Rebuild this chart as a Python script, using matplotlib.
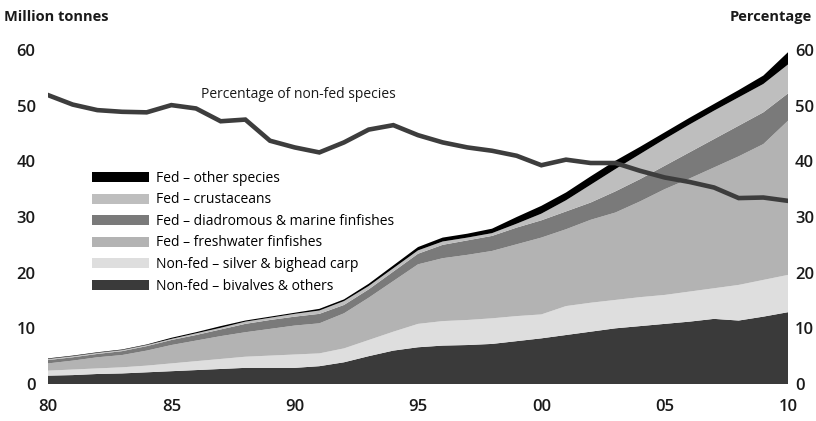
import matplotlib
matplotlib.use("Agg")
import matplotlib.pyplot as plt
from matplotlib.patches import Patch
import numpy as np

plt.rcParams['font.family'] = ['Open Sans', 'DejaVu Sans']

# years 1980-2010, million tonnes per group
years = list(range(1980, 2011))
tick_years = [1980, 1985, 1990, 1995, 2000, 2005, 2010]
tick_labels = ['80', '85', '90', '95', '00', '05', '10']

bivalves = [1.5, 1.6, 1.8, 1.9, 2.1, 2.3, 2.5, 2.7, 2.9, 2.9, 2.9, 3.2, 3.9, 5.0, 6.0,
            6.6, 6.9, 7.0, 7.2, 7.7, 8.2, 8.8, 9.4, 10.0, 10.4, 10.8, 11.2, 11.7, 11.4, 12.1, 12.9]
silver_carp = [0.9, 1.0, 1.0, 1.1, 1.2, 1.4, 1.6, 1.8, 2.0, 2.2, 2.4, 2.3, 2.5, 2.9, 3.4,
               4.2, 4.4, 4.5, 4.6, 4.5, 4.3, 5.2, 5.2, 5.1, 5.2, 5.2, 5.4, 5.5, 6.4, 6.6, 6.7]
freshwater = [1.3, 1.6, 2.0, 2.2, 2.7, 3.3, 3.7, 4.1, 4.4, 4.8, 5.2, 5.4, 6.3, 7.6, 9.1,
              10.7, 11.3, 11.7, 12.1, 12.9, 13.8, 13.8, 14.9, 15.7, 17.2, 19.0, 20.3, 21.7, 23.1, 24.4, 27.7]
diadromous = [0.6, 0.6, 0.6, 0.7, 0.8, 0.9, 1.0, 1.2, 1.5, 1.6, 1.6, 1.7, 1.5, 1.5, 1.7,
              1.9, 2.4, 2.6, 2.7, 3.0, 3.1, 3.2, 3.1, 3.8, 4.0, 4.2, 4.7, 5.1, 5.5, 5.7, 4.9]
crustaceans = [0.2, 0.2, 0.2, 0.2, 0.2, 0.2, 0.3, 0.3, 0.4, 0.4, 0.5, 0.6, 0.7, 0.6, 0.6,
               0.6, 0.6, 0.5, 0.5, 0.7, 1.2, 2.0, 3.2, 4.0, 4.5, 4.8, 5.0, 5.1, 5.1, 5.1, 5.2]
other_species = [0.1, 0.1, 0.1, 0.1, 0.1, 0.2, 0.2, 0.3, 0.2, 0.2, 0.2, 0.3, 0.3, 0.4, 0.5,
                 0.6, 0.7, 0.7, 0.8, 1.2, 1.4, 1.4, 1.5, 1.5, 1.3, 1.2, 1.2, 1.2, 1.3, 1.5, 2.2]

# percentage of non-fed species (right axis)
pct_nonfed = [51.9, 50.2, 49.2, 48.9, 48.8, 50.1, 49.5, 47.2, 47.5, 43.7, 42.5, 41.6, 43.4, 45.7, 46.5,
              44.7, 43.4, 42.5, 41.9, 41.0, 39.3, 40.3, 39.7, 39.7, 38.3, 37.1, 36.3, 35.3, 33.4, 33.5, 32.9]

labels = ['Non-fed \u2013 bivalves & others', 'Non-fed \u2013 silver & bighead carp',
          'Fed \u2013 freshwater finfishes', 'Fed \u2013 diadromous & marine finfishes',
          'Fed \u2013 crustaceans', 'Fed \u2013 other species']
colors = ['#3a3a3a', '#dedede', '#b3b3b3', '#7a7a7a', '#bebebe', '#000000']

fig = plt.figure(figsize=(8.16, 4.21), dpi=100)
ax = fig.add_axes([48/816, 1-384/421, 740/816, 334/421])

ax.stackplot(years, bivalves, silver_carp, freshwater, diadromous, crustaceans, other_species,
             colors=colors, linewidth=0)
ax.set_xlim(1980, 2010)
ax.set_ylim(0, 60)
ax.set_xticks(tick_years)
ax.set_xticklabels(tick_labels, fontweight='semibold')
ax.set_yticks(range(0, 61, 10))
ax.set_yticklabels([str(v) for v in range(0, 61, 10)], fontweight='semibold')
ax.tick_params(axis='x', length=0, pad=11, labelsize=12, labelcolor='#1a1a1a')
ax.tick_params(axis='y', length=0, pad=9, labelsize=12, labelcolor='#1a1a1a')
for s in ax.spines.values():
    s.set_visible(False)

ax2 = ax.twinx()
ax2.plot(years, pct_nonfed, color='#3d3d3d', linewidth=3.3, solid_joinstyle='miter')
ax2.set_ylim(0, 60)
ax2.set_yticks(range(0, 61, 10))
ax2.set_yticklabels([str(v) for v in range(0, 61, 10)], fontweight='semibold')
ax2.tick_params(axis='y', length=0, pad=5, labelsize=12, labelcolor='#1a1a1a')
for s in ax2.spines.values():
    s.set_visible(False)

handles = [Patch(facecolor=c, edgecolor='none') for c in colors]
ax.legend(handles[::-1], labels[::-1], loc='upper left', bbox_to_anchor=(0.059, 0.638),
          frameon=False, fontsize=10, handlelength=4.1, handleheight=0.75,
          handletextpad=0.5, labelspacing=0.47, borderpad=0, borderaxespad=0)

ax.text(1986.2, 52.0, 'Percentage of non-fed species', fontsize=10, color='#1a1a1a',
        ha='left', va='center')

fig.text(4/816, 1-17/421, 'Million tonnes', fontsize=10.5, fontweight='bold',
         ha='left', va='center', color='#1a1a1a')
fig.text(812/816, 1-17/421, 'Percentage', fontsize=10.5, fontweight='bold',
         ha='right', va='center', color='#1a1a1a')

fig.savefig('out.png', dpi=100)
